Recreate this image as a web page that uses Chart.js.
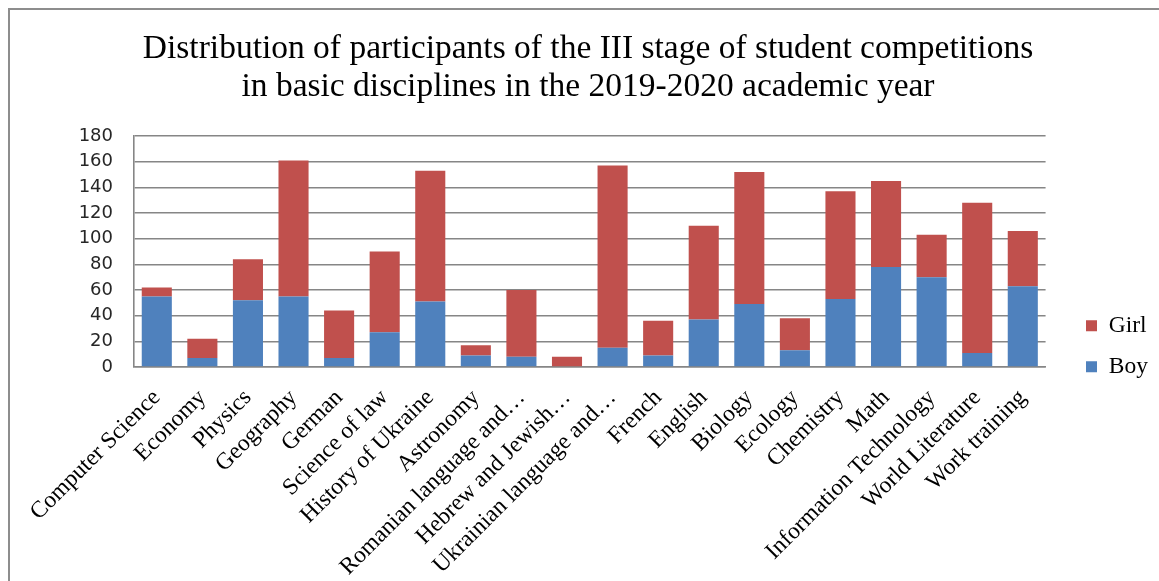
<!DOCTYPE html>
<html>
<head>
<meta charset="utf-8">
<script src="https://cdn.jsdelivr.net/npm/chart.js@4/dist/chart.umd.min.js"></script>
<style>
body{margin:0;overflow:hidden;background:#fff}
#frame{position:absolute;left:8px;top:8px;width:1400px;height:900px;border:2px solid #8d8d8d}
#chart{position:absolute;left:0;top:0}
</style>
</head>
<body>
<div id="frame"></div>
<canvas id="chart" width="1159" height="581"></canvas>
<script>
const categories = [
    "Computer Science","Economy","Physics","Geography","German",
    "Science of law","History of Ukraine","Astronomy",
    "Romanian language and\u2026","Hebrew and Jewish\u2026",
    "Ukrainian language and\u2026","French","English","Biology",
    "Ecology","Chemistry","Math","Information Technology",
    "World Literature","Work training"
]

const boyValues =
[55,7,52,55,7,27,51,9,8,0,15,9,37,49,13,53,78,70,11,63]

const girlValues =
[7,15,32,106,37,63,102,8,52,8,142,27,73,103,25,84,67,33,117,43]

const titleLines = [
    "Distribution of participants of the III stage of student competitions",
    "in basic disciplines in the 2019-2020 academic year"
]

const gridColor = "#868686"

// move legend next to plot like the office chart
const legendPlace = {
    id:"legendPlace",
    afterLayout(chart){
        const lg = chart.legend
        const w = lg.right - lg.left
        const h = lg.bottom - lg.top
        lg.left = 1068.5
        lg.right = lg.left + w
        lg.top = 296.5
        lg.bottom = lg.top + h
    }
}

const chartCtx =
document
.getElementById("chart")

const chart =
new Chart(chartCtx, {

    type:"bar",

    data:{
        labels:categories,
        datasets:[{
            label:"Boy",
            data:boyValues,
            backgroundColor:"#4f81bd"
        },{
            label:"Girl",
            data:girlValues,
            backgroundColor:"#c0504d"
        }]
    },

    options:{
        responsive:false,
        animation:false,
        layout:{padding:{left:41,right:24,top:0,bottom:0}},
        datasets:{bar:{barPercentage:0.66,categoryPercentage:1}},
        plugins:{
            title:{
                display:true,
                text:titleLines,
                color:"#000",
                font:{family:"Liberation Serif",size:33.5,weight:"normal",lineHeight:"38px"},
                padding:{top:30,bottom:30}
            },
            legend:{
                position:"right",
                align:"start",
                reverse:true,
                labels:{
                    boxWidth:11,
                    boxHeight:11,
                    padding:17.5,
                    color:"#000",
                    font:{family:"Liberation Serif",size:23.5}
                }
            },
            tooltip:{enabled:false}
        },
        scales:{
            x:{
                stacked:true,
                grid:{display:false,drawTicks:false},
                border:{display:true,color:gridColor,width:1.6},
                ticks:{
                    minRotation:45,
                    maxRotation:45,
                    padding:17,
                    color:"#000",
                    font:{family:"Liberation Serif",size:23.5}
                },
                afterFit(scale){ scale.height = 214 }
            },
            y:{
                stacked:true,
                min:0,
                max:180,
                grid:{color:gridColor,lineWidth:1.4,drawTicks:false},
                border:{display:true,color:gridColor,width:1.6},
                ticks:{
                    stepSize:20,
                    padding:21,
                    color:"#262626",
                    font:{family:"DejaVu Sans",size:18}
                },
                afterFit(scale){ scale.width = 93 }
            }
        }
    },

    plugins:[legendPlace]
})
</script>
</body>
</html>
